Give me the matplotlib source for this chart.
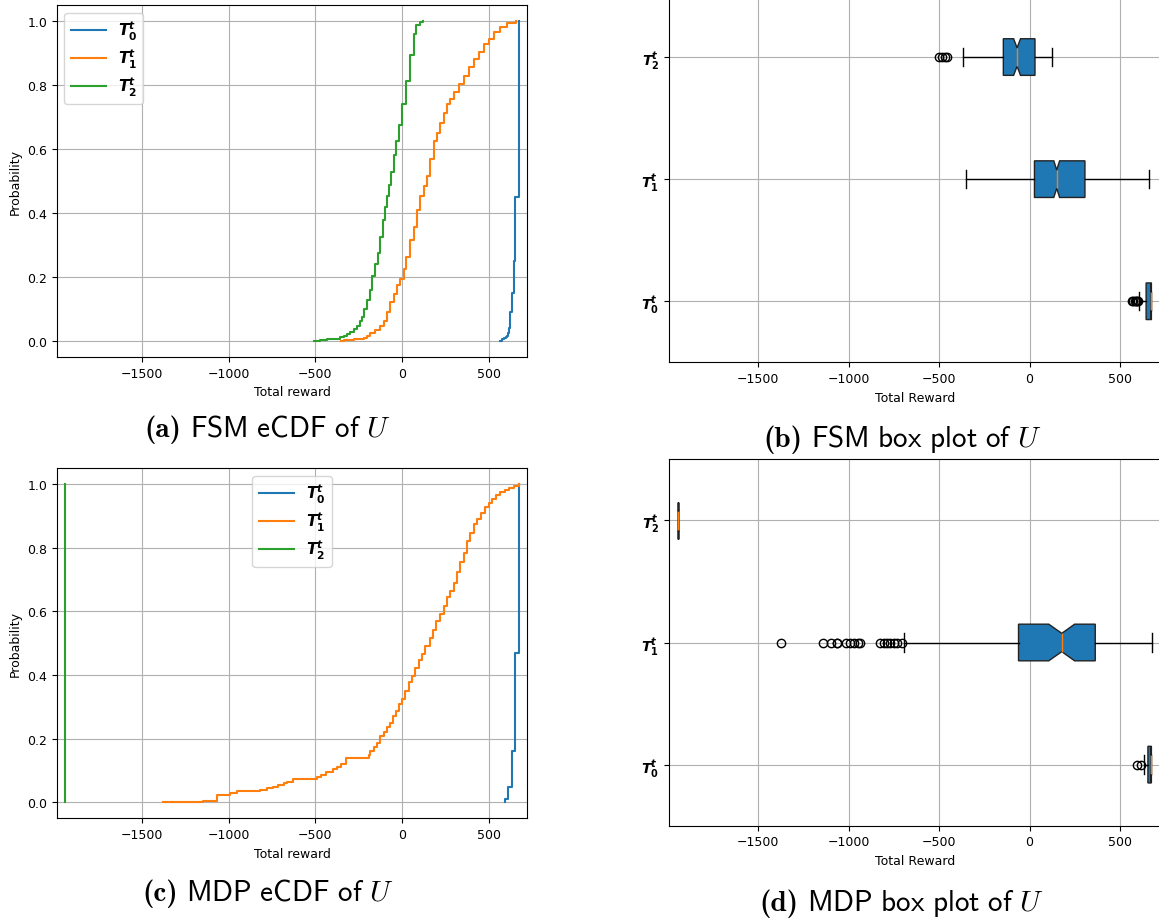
import os
import numpy as np
import matplotlib
matplotlib.use("Agg")
from matplotlib import pyplot as plt
from matplotlib.font_manager import FontProperties

# eCDF knots: reward value where the curve steps, and the probability after the step
fsm_t0_x = [565, 575, 588, 600, 607, 615, 620, 626, 636, 646, 655, 674]
fsm_t0_p = [0.0, 0.005, 0.008, 0.012, 0.017, 0.025, 0.04, 0.09, 0.15, 0.25, 0.45, 1.0]

fsm_t1_x = [-353, -337, -279, -222, -202, -183, -154, -125, -106, -87, -67, -48, -29, -10,
            10, 25, 44, 67, 87, 106, 125, 145, 164, 183, 202, 222, 241, 260, 279, 303, 328,
            356, 385, 414, 443, 472, 501, 530, 568, 607, 659]
fsm_t1_p = [0, 0.003, 0.006, 0.009, 0.017, 0.025, 0.035, 0.048, 0.064, 0.09, 0.122, 0.148,
            0.174, 0.195, 0.226, 0.263, 0.316, 0.357, 0.41, 0.452, 0.483, 0.515, 0.569, 0.625,
            0.651, 0.68, 0.714, 0.74, 0.756, 0.777, 0.803, 0.829, 0.855, 0.882, 0.903, 0.929,
            0.944, 0.965, 0.981, 0.995, 1.0]

fsm_t2_x = [-507, -472, -434, -366, -356, -337, -318, -299, -279, -260, -245, -229, -218, -202,
            -187, -171, -154, -141, -125, -110, -96, -87, -77, -64, -48, -33, -17, 0, 25, 48,
            67, 83, 102, 121]
fsm_t2_p = [0, 0.003, 0.005, 0.006, 0.012, 0.017, 0.022, 0.029, 0.038, 0.048, 0.061, 0.074,
            0.1, 0.127, 0.158, 0.202, 0.242, 0.274, 0.326, 0.378, 0.42, 0.452, 0.488, 0.527,
            0.58, 0.625, 0.674, 0.74, 0.813, 0.894, 0.96, 0.986, 0.997, 1.0]

mdp_t0_x = [594, 594, 614, 634, 654, 673]
mdp_t0_p = [0, 0.01, 0.047, 0.16, 0.47, 1.0]

mdp_t1_x = [-1378, -1147, -1070, -992, -950, -819, -780, -746, -713, -684, -665, -630, -491,
            -468, -437, -399, -376, -353, -322, -193, -183, -160, -145, -125, -106, -87, -71,
            -52, -37, -19, 0, 19, 39, 58, 77, 96, 116, 131, 160, 179, 198, 218, 241, 260, 279,
            299, 318, 337, 356, 376, 395, 414, 433, 457, 482, 501, 520, 545, 568, 592, 617,
            646, 674]
mdp_t1_p = [0, 0.003, 0.023, 0.03, 0.035, 0.039, 0.044, 0.049, 0.055, 0.06, 0.065, 0.073,
            0.079, 0.086, 0.097, 0.105, 0.112, 0.121, 0.138, 0.15, 0.162, 0.175, 0.186, 0.209,
            0.22, 0.238, 0.251, 0.272, 0.288, 0.309, 0.325, 0.351, 0.377, 0.398, 0.421, 0.448,
            0.466, 0.492, 0.518, 0.542, 0.571, 0.592, 0.618, 0.644, 0.665, 0.691, 0.723, 0.754,
            0.785, 0.822, 0.848, 0.874, 0.89, 0.911, 0.927, 0.942, 0.955, 0.966, 0.974, 0.981,
            0.987, 0.995, 1.0]

mdp_t2_x = [-1943, -1943]
mdp_t2_p = [0, 1.0]

# box plot summaries (T0, T1, T2)
fsm_q1 = [644, 27, -145]
fsm_med = [673, 150, -69]
fsm_q3 = [673, 306, 30]
fsm_whislo = [607, -349, -366]
fsm_whishi = [673, 662, 123]
fsm_cilo = [671, 134, -88]
fsm_cihi = [673, 166, -50]
fsm_fliers = [[565, 572, 580, 588, 595, 600], [], [-500, -485, -470, -455]]

mdp_q1 = [654, -61, -1943]
mdp_med = [673, 178, -1943]
mdp_q3 = [673, 363, -1943]
mdp_whislo = [634, -693, -1943]
mdp_whishi = [673, 675, -1943]
mdp_cilo = [671, 106, -1943]
mdp_cihi = [673, 249, -1943]
mdp_fliers = [[594, 614],
              [-1376, -1140, -1098, -1064, -1064, -1016, -992, -969, -950, -936,
               -826, -807, -788, -769, -750, -731, -706],
              []]

labels = [r'$\mathbfit{T}_\mathbf{0}^\mathbfit{t}$',
          r'$\mathbfit{T}_\mathbf{1}^\mathbfit{t}$',
          r'$\mathbfit{T}_\mathbf{2}^\mathbfit{t}$']

XLIM = (-1993, 723)

fig = plt.figure(figsize=(11.59, 9.2), dpi=100)

W, H = 1159.0, 920.0
def rect(left, top, right, bottom):
    return [left / W, 1 - bottom / H, (right - left) / W, (bottom - top) / H]

ax_a = fig.add_axes(rect(56.8, 6, 527.2, 358))
ax_b = fig.add_axes(rect(668.9, -3, 1160.4, 363.3))
ax_c = fig.add_axes(rect(56.8, 469.3, 527.2, 819.3))
ax_d = fig.add_axes(rect(668.9, 460.3, 1160.4, 826.7))


def ecdf_panel(ax, curves, legend_loc):
    for (x, p), lab, col in zip(curves, labels, ['C0', 'C1', 'C2']):
        ax.step(x, p, where='post', color=col, lw=1.5, label=lab)
    ax.set_xlim(XLIM)
    ax.set_ylim(-0.05, 1.05)
    ax.set_xticks([-1500, -1000, -500, 0, 500])
    ax.grid(True)
    ax.set_xlabel('Total reward', fontsize=9)
    ax.set_ylabel('Probability', fontsize=9)
    ax.tick_params(labelsize=9)
    ax.legend(loc=legend_loc, fontsize=11, labelspacing=0.3, handlelength=2.3)


def box_panel(ax, q1, med, q3, lo, hi, cilo, cihi, fliers):
    stats = []
    for i in range(3):
        stats.append(dict(q1=q1[i], med=med[i], q3=q3[i], whislo=lo[i], whishi=hi[i],
                          cilo=cilo[i], cihi=cihi[i], fliers=fliers[i], label=labels[i]))
    bp = ax.bxp(stats, positions=[1, 2, 3], orientation='horizontal', shownotches=True,
                patch_artist=True, widths=0.3)
    for b in bp['boxes']:
        b.set_facecolor('C0')
        b.set_edgecolor('#222222')
    for m in bp['medians']:
        m.set_color('C1')
    ax.set_xlim(XLIM)
    ax.set_ylim(0.5, 3.5)
    ax.set_xticks([-1500, -1000, -500, 0, 500])
    ax.grid(True)
    ax.set_xlabel('Total Reward', fontsize=9)
    ax.tick_params(labelsize=9)
    ax.tick_params(axis='y', labelsize=10)


ecdf_panel(ax_a, [(fsm_t0_x, fsm_t0_p), (fsm_t1_x, fsm_t1_p), (fsm_t2_x, fsm_t2_p)], 'upper left')
ecdf_panel(ax_c, [(mdp_t0_x, mdp_t0_p), (mdp_t1_x, mdp_t1_p), (mdp_t2_x, mdp_t2_p)], 'upper center')
box_panel(ax_b, fsm_q1, fsm_med, fsm_q3, fsm_whislo, fsm_whishi, fsm_cilo, fsm_cihi, fsm_fliers)
box_panel(ax_d, mdp_q1, mdp_med, mdp_q3, mdp_whislo, mdp_whishi, mdp_cilo, mdp_cihi, mdp_fliers)

# sub-captions: bold "(x)" in Computer Modern bold, rest in CM sans with math-italic U
CAP_SIZE = 21
ttf_dir = os.path.join(matplotlib.get_data_path(), 'fonts', 'ttf')
bold_fp = FontProperties(fname=os.path.join(ttf_dir, 'cmb10.ttf'), size=CAP_SIZE)
renderer = fig.canvas.get_renderer()

captions = [(268, 437, '(a)', r'$\mathsf{FSM\ eCDF\ of}\ U$'),
            (902, 447, '(b)', r'$\mathsf{FSM\ box\ plot\ of}\ U$'),
            (268, 901, '(c)', r'$\mathsf{MDP\ eCDF\ of}\ U$'),
            (902, 911, '(d)', r'$\mathsf{MDP\ box\ plot\ of}\ U$')]
for cx, base, tag, rest in captions:
    t1 = fig.text(0, 0, tag, fontproperties=bold_fp, va='baseline', ha='left')
    t2 = fig.text(0, 0, rest, fontsize=CAP_SIZE, math_fontfamily='cm',
                  va='baseline', ha='left')
    w1 = t1.get_window_extent(renderer).width
    w2 = t2.get_window_extent(renderer).width
    gap = 0.3 * CAP_SIZE * 100 / 72
    x0 = cx - (w1 + gap + w2) / 2
    t1.set_position((x0 / W, 1 - base / H))
    t2.set_position(((x0 + w1 + gap) / W, 1 - base / H))

fig.savefig('out.png', dpi=100)
